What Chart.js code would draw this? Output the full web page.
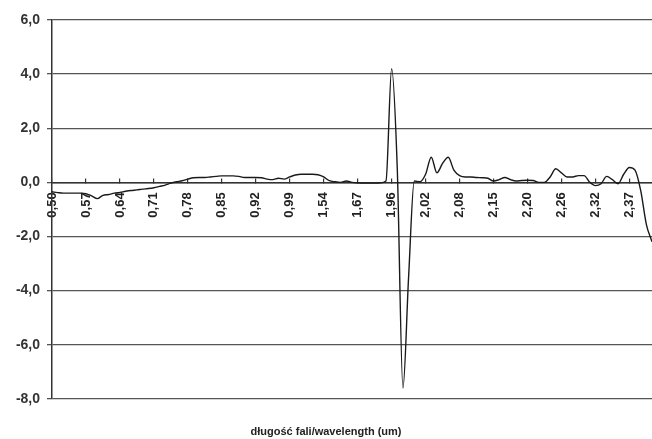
<!DOCTYPE html>
<html>
<head>
<meta charset="utf-8">
<script src="https://cdn.jsdelivr.net/npm/chart.js@4"></script>
<style>
  html, body { margin: 0; padding: 0; background: #fff; }
  #wrap { width: 652px; height: 439px; }
</style>
</head>
<body>
<div id="wrap"><canvas id="chart"></canvas></div>
<script>
// tick labels shown on the category axis, one every 6 samples
const tickLabels = ['0,50', '0,57', '0,64', '0,71', '0,78', '0,85', '0,92', '0,99', '1,54',
    '1,67', '1,96', '2,02', '2,08', '2,15', '2,20', '2,26', '2,32', '2,37'];
const samplesPerTick = 6;

// values
const values = [
    -0.35, -0.38, -0.40, -0.40, -0.40, -0.40, -0.42, -0.50, -0.60, -0.48,
    -0.45, -0.40, -0.37, -0.33, -0.30, -0.28, -0.25, -0.23, -0.20, -0.15,
    -0.10, -0.03, 0.02, 0.06, 0.12, 0.17, 0.18, 0.18, 0.20, 0.22,
    0.24, 0.24, 0.24, 0.22, 0.18, 0.18, 0.18, 0.17, 0.12, 0.10,
    0.15, 0.12, 0.20, 0.27, 0.30, 0.30, 0.30, 0.28, 0.20, 0.06,
    0.02, 0.00, 0.05, 0.00, -0.02, -0.03, -0.03, -0.03, -0.02, 0.05,
    4.20, 0.50, -7.60, -3.50, 0.05, 0.02, 0.30, 0.93, 0.35, 0.70,
    0.93, 0.45, 0.25, 0.20, 0.20, 0.18, 0.17, 0.15, 0.05, 0.10,
    0.18, 0.10, 0.05, 0.07, 0.08, 0.07, 0.00, 0.00, 0.20, 0.50,
    0.35, 0.20, 0.20, 0.25, 0.25, 0.00, -0.12, -0.05, 0.22, 0.10,
    -0.05, 0.30, 0.55, 0.45, -0.30, -1.55, -2.20
];

const categories = values.map((v, i) =>
    i % samplesPerTick === 0 ? (tickLabels[i / samplesPerTick] || '') : '');

const fmt = v => v.toFixed(1).replace('.', ',');
const fontFam = 'Liberation Sans, Arial, sans-serif';

const config = {
    type: 'line',
    data: {
        labels: categories,
        datasets: [{
            data: values,
            borderColor: '#1a1a1a',
            borderWidth: 1.4,
            pointRadius: 0,
            fill: false,
            tension: 0.4,
            cubicInterpolationMode: 'monotone'
        }]
    },
    options: {
        responsive: true,
        maintainAspectRatio: false,
        animation: false,
        layout: { padding: { top: 20, right: 0, left: 0, bottom: 0 } },
        plugins: {
            legend: { display: false },
            tooltip: { enabled: false },
            title: {
                display: true,
                position: 'bottom',
                text: 'długość fali/wavelength (um)',
                color: '#222',
                font: { family: fontFam, size: 11, weight: 'bold' },
                padding: { top: 27, bottom: 0 }
            }
        },
        scales: {
            x: {
                type: 'category',
                position: { y: 0 },
                offset: false,
                afterFit: s => { s.height = 0; s.paddingLeft = 0; s.paddingRight = 0; },
                border: { display: true, color: '#333', width: 1.4 },
                // negative tick length puts the little tick marks above the axis
                grid: { drawOnChartArea: false, drawTicks: true, tickLength: -5, color: '#333', lineWidth: 1.2 },
                ticks: {
                    autoSkip: false,
                    minRotation: 90,
                    maxRotation: 90,
                    padding: 15,
                    color: '#222',
                    font: { family: fontFam, size: 13, weight: 'bold' },
                    callback: function (value, index) {
                        const l = categories[index];
                        return l ? l : null;
                    }
                }
            },
            y: {
                min: -8,
                max: 6,
                afterFit: s => { s.width = 52; },
                border: { display: true, color: '#333', width: 1.5 },
                grid: { color: '#555', lineWidth: 1.3, drawTicks: true, tickLength: 5 },
                ticks: {
                    stepSize: 2,
                    padding: 7,
                    color: '#333',
                    font: { family: fontFam, size: 14, weight: 'bold' },
                    callback: v => fmt(v)
                }
            }
        }
    }
};

var chart = new Chart(document.getElementById('chart'), config);
</script>
</body>
</html>
